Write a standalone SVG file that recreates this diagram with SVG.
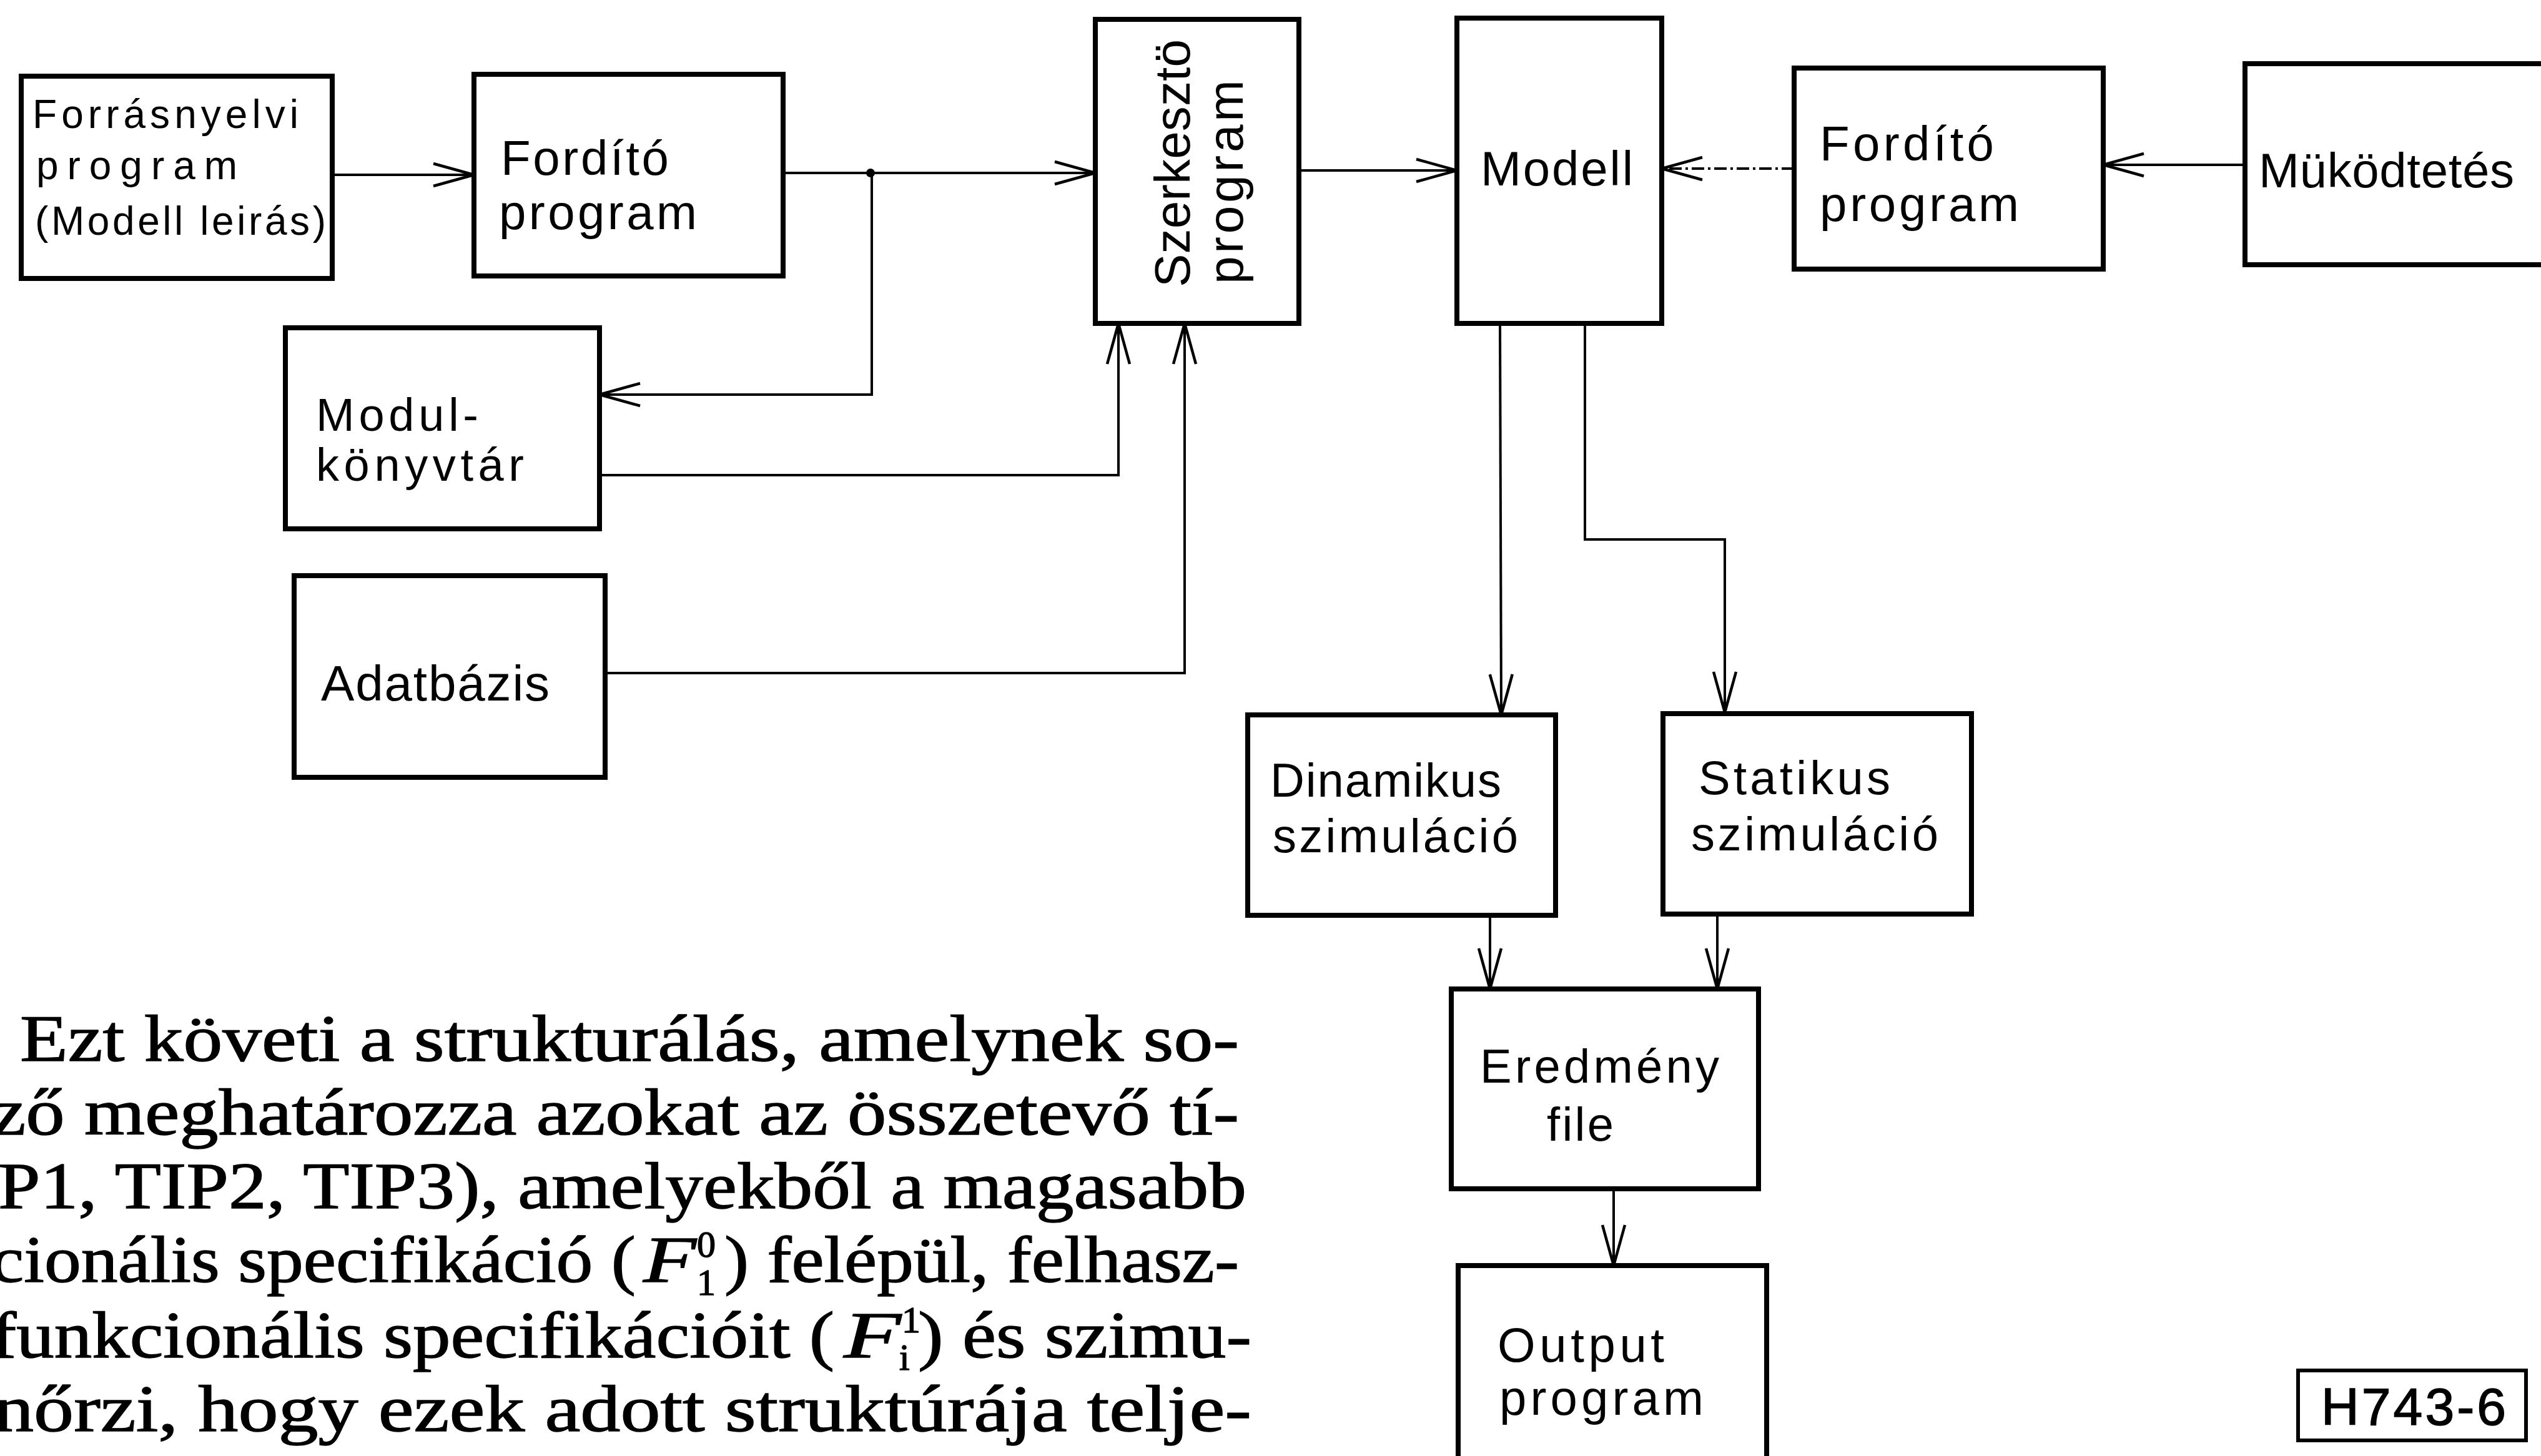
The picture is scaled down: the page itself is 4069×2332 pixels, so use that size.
<svg xmlns="http://www.w3.org/2000/svg" width="4069" height="2332" viewBox="0 0 4069 2332">
<defs>
<style>
.box{fill:#fff;stroke:#000;stroke-width:8;stroke-linejoin:miter}
.lbl{font-family:"Liberation Sans",Arial,sans-serif;fill:#000}
.conn{fill:none;stroke:#000;stroke-width:4}
.body{font-family:"Liberation Serif","Times New Roman",serif;fill:#000;stroke:#000;stroke-width:1.4;font-size:106px}
.scr{font-size:60px}
</style>
<marker id="ah" markerUnits="userSpaceOnUse" markerWidth="80" markerHeight="50" refX="70" refY="25" orient="auto" overflow="visible">
<path d="M5 7 L70 25 L5 43" fill="none" stroke="#000" stroke-width="4.5"/>
</marker>
</defs>
<rect width="4069" height="2332" fill="#fff"/>

<g id="connectors">
<line class="conn" x1="532" y1="280" x2="759" y2="280" marker-end="url(#ah)"/>
<line class="conn" x1="1254" y1="277" x2="1754" y2="277" marker-end="url(#ah)"/>
<circle cx="1394" cy="277" r="7" fill="#000"/>
<polyline class="conn" points="1396,277 1396,632 960,632" marker-end="url(#ah)"/>
<polyline class="conn" points="960,761 1791,761 1791,518" marker-end="url(#ah)"/>
<polyline class="conn" points="969,1078 1897,1078 1897,518" marker-end="url(#ah)"/>
<line class="conn" x1="2080" y1="273" x2="2333" y2="273" marker-end="url(#ah)"/>
<line class="conn" x1="2873" y1="270" x2="2661" y2="270" stroke-width="2.5" stroke-dasharray="20 6 4 6" marker-end="url(#ah)"/>
<line class="conn" x1="3595" y1="264" x2="3368" y2="264" marker-end="url(#ah)"/>
<line class="conn" x1="2402" y1="518" x2="2404" y2="1145" marker-end="url(#ah)"/>
<polyline class="conn" points="2538,518 2538,864 2762,864 2762,1141" marker-end="url(#ah)"/>
<line class="conn" x1="2386" y1="1466" x2="2386" y2="1584" marker-end="url(#ah)"/>
<line class="conn" x1="2750" y1="1464" x2="2750" y2="1584" marker-end="url(#ah)"/>
<line class="conn" x1="2584" y1="1904" x2="2584" y2="2027" marker-end="url(#ah)"/>
</g>

<g id="forrasnyelvi">
<rect class="box" x="34" y="122" width="498" height="324"/>
<text class="lbl" font-size="64" x="52" y="205" textLength="426" lengthAdjust="spacing">Forrásnyelvi</text>
<text class="lbl" font-size="64" x="58" y="287" textLength="322" lengthAdjust="spacing">program</text>
<text class="lbl" font-size="64" x="56" y="376" textLength="466" lengthAdjust="spacing">(Modell leirás)</text>
</g>

<g id="fordito1">
<rect class="box" x="759" y="119" width="495" height="323"/>
<text class="lbl" font-size="78" x="802" y="280" textLength="269" lengthAdjust="spacing">Fordító</text>
<text class="lbl" font-size="78" x="799" y="367" textLength="317" lengthAdjust="spacing">program</text>
</g>

<g id="modulkonyvtar">
<rect class="box" x="457" y="525" width="503" height="322"/>
<text class="lbl" font-size="74" x="506" y="690" textLength="260" lengthAdjust="spacing">Modul-</text>
<text class="lbl" font-size="74" x="506" y="770" textLength="333" lengthAdjust="spacing">könyvtár</text>
</g>

<g id="adatbazis">
<rect class="box" x="471" y="922" width="498" height="323"/>
<text class="lbl" font-size="80" x="514" y="1122" textLength="366" lengthAdjust="spacing">Adatbázis</text>
</g>

<g id="szerkeszto">
<rect class="box" x="1754" y="31" width="326" height="487"/>
<text class="lbl" font-size="80" transform="translate(1905,460) rotate(-90)" x="0" y="0" textLength="397" lengthAdjust="spacing">Szerkesztö</text>
<text class="lbl" font-size="80" transform="translate(1990,455) rotate(-90)" x="0" y="0" textLength="327" lengthAdjust="spacing">program</text>
</g>

<g id="modell">
<rect class="box" x="2333" y="29" width="328" height="489"/>
<text class="lbl" font-size="78" x="2371" y="297" textLength="244" lengthAdjust="spacing">Modell</text>
</g>

<g id="fordito2">
<rect class="box" x="2873" y="109" width="495" height="322"/>
<text class="lbl" font-size="78" x="2914" y="257" textLength="279" lengthAdjust="spacing">Fordító</text>
<text class="lbl" font-size="78" x="2914" y="354" textLength="319" lengthAdjust="spacing">program</text>
</g>

<g id="mukodtetes">
<rect class="box" x="3595" y="102" width="520" height="322"/>
<text class="lbl" font-size="78" x="3617" y="300" textLength="409" lengthAdjust="spacing">Müködtetés</text>
</g>

<g id="dinamikus">
<rect class="box" x="1998" y="1145" width="493" height="321"/>
<text class="lbl" font-size="76" x="2034" y="1276" textLength="370" lengthAdjust="spacing">Dinamikus</text>
<text class="lbl" font-size="76" x="2038" y="1365" textLength="393" lengthAdjust="spacing">szimuláció</text>
</g>

<g id="statikus">
<rect class="box" x="2663" y="1143" width="494" height="321"/>
<text class="lbl" font-size="76" x="2720" y="1272" textLength="307" lengthAdjust="spacing">Statikus</text>
<text class="lbl" font-size="76" x="2708" y="1362" textLength="396" lengthAdjust="spacing">szimuláció</text>
</g>

<g id="eredmeny">
<rect class="box" x="2324" y="1584" width="492" height="320"/>
<text class="lbl" font-size="76" x="2370" y="1734" textLength="383" lengthAdjust="spacing">Eredmény</text>
<text class="lbl" font-size="76" x="2477" y="1827" textLength="107" lengthAdjust="spacing">file</text>
</g>

<g id="output">
<rect class="box" x="2335" y="2027" width="494" height="340"/>
<text class="lbl" font-size="78" x="2398" y="2181" textLength="267" lengthAdjust="spacing">Output</text>
<text class="lbl" font-size="78" x="2401" y="2266" textLength="327" lengthAdjust="spacing">program</text>
</g>

<g id="h743">
<rect x="3680" y="2195" width="365" height="112" fill="#fff" stroke="#000" stroke-width="6"/>
<text class="lbl" font-size="84" x="3717" y="2282" textLength="296" lengthAdjust="spacing" stroke="#000" stroke-width="1.5">H743-6</text>
</g>

<g id="bodytext">
<text class="body" x="32" y="1699" textLength="1952" lengthAdjust="spacingAndGlyphs">Ezt követi a strukturálás, amelynek so-</text>
<text class="body" x="-14" y="1817" textLength="1998" lengthAdjust="spacingAndGlyphs">ző meghatározza azokat az összetevő tí-</text>
<text class="body" x="-3" y="1935" textLength="1999" lengthAdjust="spacingAndGlyphs">P1, TIP2, TIP3), amelyekből a magasabb</text>
<text class="body" x="-14" y="2053" textLength="1032" lengthAdjust="spacingAndGlyphs">cionális specifikáció (</text>
<text class="body" x="1030" y="2053" font-style="italic" textLength="85" lengthAdjust="spacingAndGlyphs">F</text>
<text class="body scr" x="1116" y="2013">0</text>
<text class="body scr" x="1116" y="2074">1</text>
<text class="body" x="1160" y="2053" textLength="824" lengthAdjust="spacingAndGlyphs">) felépül, felhasz-</text>
<text class="body" x="-14" y="2174" textLength="1350" lengthAdjust="spacingAndGlyphs">funkcionális specifikációit (</text>
<text class="body" x="1351" y="2174" font-style="italic" textLength="92" lengthAdjust="spacingAndGlyphs">F</text>
<text class="body scr" x="1444" y="2134">1</text>
<text class="body scr" x="1440" y="2194">i</text>
<text class="body" x="1470" y="2174" textLength="534" lengthAdjust="spacingAndGlyphs">) és szimu-</text>
<text class="body" x="-10" y="2292" textLength="2014" lengthAdjust="spacingAndGlyphs">nőrzi, hogy ezek adott struktúrája telje-</text>
</g>
</svg>
